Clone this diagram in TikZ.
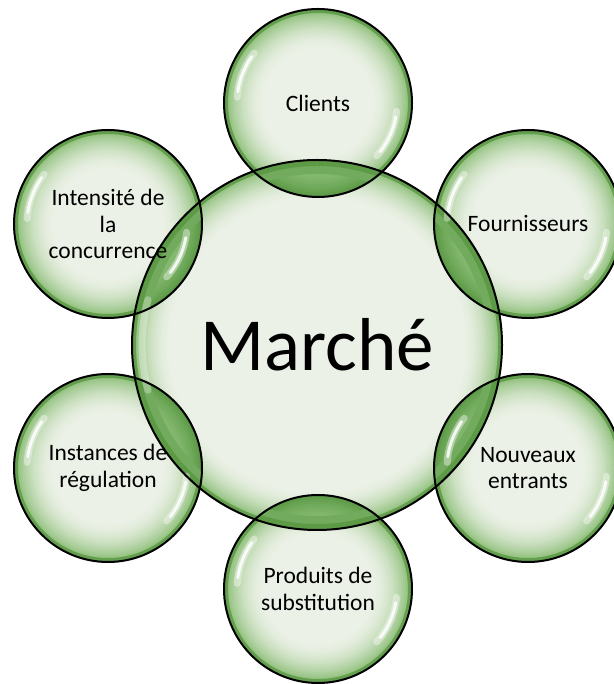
\documentclass[tikz,border=0pt]{standalone}
\usepackage{fontspec}
\setmainfont{Carlito}
\usetikzlibrary{backgrounds}

\definecolor{bubin}{HTML}{EBF1E6}
\definecolor{bubrim}{HTML}{86BB70}
\definecolor{bubedge}{HTML}{649F4E}
\definecolor{lensin}{HTML}{93C47F}
\definecolor{lensrim}{HTML}{5C9A46}

\tikzstyle{every node}=[circle, draw=black, line width=2pt, inner sep=0pt, align=center, font=\fontsize{23.5}{26.5}\selectfont]
\tikzstyle{bubble}=[minimum size=188pt]
\tikzstyle{market}=[minimum size=370pt, font=\fontsize{75}{80}\selectfont]
\tikzstyle{shine}=[white, line width=3pt, line cap=round, opacity=0.85]
\tikzstyle{glow}=[white, line width=7pt, line cap=round, opacity=0.4]

\begin{document}
\begin{tikzpicture}[x=1pt, y=1pt]
    \useasboundingbox (0,0) rectangle (613,684);
    \node[market] (n0) at (317,339) {Marché};
    \node[bubble] (n1) at (318,581) {Clients};
    \node[bubble] (n2) at (528,460) {Fournisseurs};
    \node[bubble] (n3) at (528,216) {Nouveaux\\entrants};
    \node[bubble] (n4) at (318,95) {Produits de\\substitution};
    \node[bubble] (n5) at (108,216) {Instances de\\régulation};
    \node[bubble] (n6) at (108,460) {Intensité de\\la\\concurrence};
    \begin{scope}[on background layer]
      % bulles
      \foreach \n/\r/\w in {n0/185/0.22, n1/94/0.45, n2/94/0.45, n3/94/0.45, n4/94/0.45, n5/94/0.45, n6/94/0.45} {
        \foreach \k in {0,...,20} {
          \pgfmathtruncatemacro\p{100*(1-\k/20)^2}
          \pgfmathsetmacro\rr{\r*(1-\w*\k/20)}
          \fill[bubrim!\p!bubin] (\n.center) circle[radius=\rr pt];
        }
        \draw[bubedge, line width=4pt] (\n.center) circle[radius=\r pt - 2pt];
      }
      % recouvrements
      \foreach \n in {n1, n2, n3, n4, n5, n6} {
        \begin{scope}
          \clip (n0.center) circle[radius=185pt];
          \foreach \k in {0,...,20} {
            \pgfmathtruncatemacro\p{100*(1-\k/20)^2}
            \pgfmathsetmacro\rr{94*(1-0.45*\k/20)}
            \fill[lensrim!\p!lensin] (\n.center) circle[radius=\rr pt];
          }
          \clip (\n.center) circle[radius=94pt];
          \draw[lensrim!60!lensin, line width=14pt] (n0.center) circle[radius=178pt];
          \draw[lensrim, line width=6pt] (n0.center) circle[radius=182pt];
        \end{scope}
      }
      % reflets
      \foreach \n in {n1, n2, n3, n4, n5, n6} {
        \draw[glow] ([shift={(142:81pt)}]\n.center) arc[start angle=142, end angle=176, radius=81pt];
        \draw[shine] ([shift={(145:81pt)}]\n.center) arc[start angle=145, end angle=172, radius=81pt];
        \draw[glow] ([shift={(-42:79pt)}]\n.center) arc[start angle=-42, end angle=-6, radius=79pt];
        \draw[shine] ([shift={(-38:79pt)}]\n.center) arc[start angle=-38, end angle=-10, radius=79pt];
      }
      \draw[glow, opacity=0.3] ([shift={(165:175pt)}]n0.center) arc[start angle=165, end angle=195, radius=175pt];
    \end{scope}
\end{tikzpicture}
\end{document}
